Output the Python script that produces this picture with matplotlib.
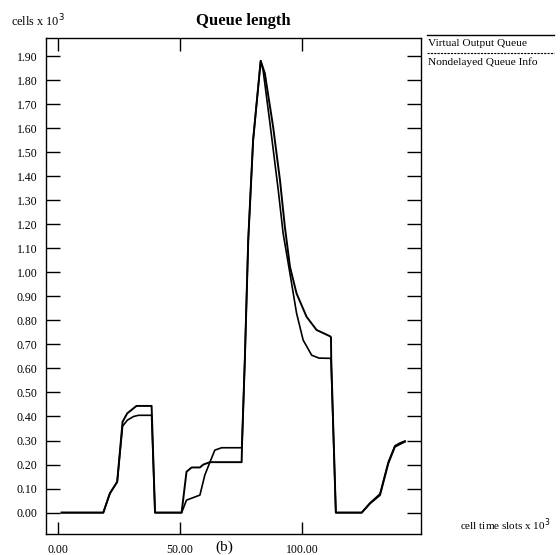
import matplotlib
matplotlib.use("Agg")
import matplotlib.pyplot as plt
from matplotlib.lines import Line2D

plt.rcParams['font.family'] = ['Liberation Serif', 'DejaVu Serif']

# queue length, cells x 10^3, against cell time slots x 10^3
voq_x = [1.5, 18.6, 21.3, 24.3, 26.5, 28.4, 32.2, 38.4, 39.8, 50.7, 52.7, 54.8,
         58.2, 59.6, 62.3, 75.3, 75.5, 76.6, 78.0, 80.0, 83.1, 84.8, 88.2, 91.0,
         93.0, 95.1, 97.8, 101.9, 106.0, 111.5, 111.9, 112.0, 113.9, 124.5, 127.9,
         132.0, 135.4, 138.1, 140.2, 142.2]
voq_y = [0.0, 0.0, 0.08, 0.128, 0.378, 0.413, 0.444, 0.444, 0.0, 0.0, 0.17, 0.188,
         0.188, 0.20, 0.21, 0.21, 0.30, 0.635, 1.134, 1.55, 1.88, 1.828, 1.605, 1.384,
         1.19, 1.023, 0.912, 0.815, 0.76, 0.734, 0.73, 0.642, 0.0, 0.0, 0.038,
         0.073, 0.205, 0.274, 0.285, 0.295]

ndq_x = [1.5, 18.6, 21.3, 24.3, 26.5, 28.5, 31.0, 33.0, 38.4, 39.8, 50.7, 52.7,
         58.2, 60.2, 62.3, 64.3, 67.1, 75.3, 75.5, 76.6, 78.0, 80.0, 83.1, 84.1,
         86.9, 90.3, 92.3, 95.1, 97.8, 100.5, 104.0, 107.0, 111.5, 111.9, 113.9,
         124.5, 127.9, 132.0, 135.4, 138.1, 140.2, 142.2]
ndq_y = [0.0, 0.0, 0.08, 0.128, 0.36, 0.385, 0.40, 0.405, 0.405, 0.0, 0.0, 0.052,
         0.073, 0.156, 0.21, 0.26, 0.27, 0.27, 0.30, 0.635, 1.134, 1.55, 1.88, 1.84,
         1.62, 1.342, 1.162, 0.995, 0.83, 0.718, 0.655, 0.643, 0.642, 0.642, 0.0,
         0.0, 0.04, 0.078, 0.21, 0.278, 0.29, 0.298]

labels = ["Virtual Output Queue", "Nondelayed Queue Info"]
xticks = [0, 50, 100]
yticks = [i / 10 for i in range(20)]

fig = plt.figure(figsize=(5.6, 5.55), dpi=100)
ax = fig.add_axes([0.0816, 0.0378, 0.6702, 0.8942])

ax.plot(voq_x, voq_y, color='black', lw=1.4)
ax.plot(ndq_x, ndq_y, color='black', lw=1.2)

ax.set_xlim(-5.0, 148.8)
ax.set_ylim(-0.089, 1.976)
ax.set_xticks(xticks)
ax.set_xticklabels(["%.2f" % v for v in xticks])
ax.set_yticks(yticks)
ax.set_yticklabels(["%.2f" % v for v in yticks])
ax.tick_params(direction='in', length=10, width=1, labelsize=8.5,
               top=True, right=True, pad=6)
ax.tick_params(axis='x', length=9, pad=7)
for s in ax.spines.values():
    s.set_linewidth(1)

fig.text(0.019, 0.963, r"cells x 10$^3$", fontsize=8.8, va='center')
fig.text(0.434, 0.963, "Queue length", fontsize=12,
         fontweight='bold', ha='center', va='center')
fig.text(0.821, 0.054, r"cell time slots x 10$^3$", fontsize=8, va='center')
fig.text(0.40, 0.002, "(b)", fontsize=11, ha='center', va='bottom')

# legend drawn as a line over each label, to the right of the frame
fig.add_artist(Line2D([0.762, 0.99], [0.937, 0.937], color='black', lw=1))
fig.text(0.764, 0.921, labels[0], fontsize=8.2, va='center')
fig.add_artist(Line2D([0.762, 0.99], [0.904, 0.904], color='black', lw=0.8,
                      ls=(0, (2, 1))))
fig.text(0.764, 0.888, labels[1], fontsize=8.2, va='center')

fig.savefig("out.png", dpi=100)
